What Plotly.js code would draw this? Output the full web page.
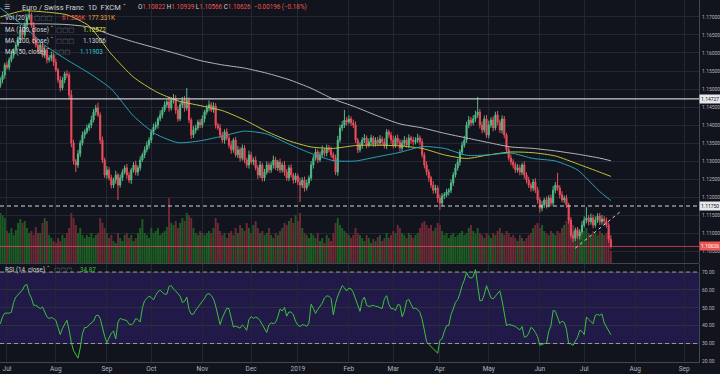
<!DOCTYPE html>
<html><head><meta charset="utf-8">
<script src="https://cdn.plot.ly/plotly-3.0.1.min.js"></script>
<style>html,body{margin:0;padding:0;background:#11141c;}#chart{width:720px;height:374px;}</style>
</head><body><div id="chart"></div>
<script>
// ---------------- DATA ----------------
const startDate = '2018-06-27';   // first daily bar (weekdays only)
const firstOpen = 1.1510;
const closes = [
1.1525,1.1539,1.1567,1.1560,1.1581,1.1594,1.1608,1.1622,1.1636,1.1664,
1.1650,1.1678,1.1697,1.1706,1.1678,1.1636,1.1622,1.1608,1.1622,1.1594,
1.1608,1.1581,1.1586,1.1594,1.1575,1.1553,1.1525,1.1503,1.1525,1.1542,
1.1539,1.1483,1.1350,1.1300,1.1289,1.1320,1.1350,1.1372,1.1381,1.1392,
1.1400,1.1414,1.1436,1.1447,1.1428,1.1358,1.1303,1.1261,1.1275,1.1253,
1.1233,1.1247,1.1261,1.1233,1.1253,1.1269,1.1281,1.1261,1.1247,1.1275,
1.1289,1.1269,1.1281,1.1303,1.1317,1.1331,1.1344,1.1358,1.1381,1.1394,
1.1400,1.1417,1.1428,1.1442,1.1456,1.1464,1.1447,1.1469,1.1475,1.1442,
1.1417,1.1456,1.1469,1.1447,1.1469,1.1414,1.1372,1.1386,1.1392,1.1408,
1.1400,1.1417,1.1436,1.1447,1.1456,1.1442,1.1453,1.1400,1.1392,1.1372,
1.1358,1.1381,1.1364,1.1344,1.1331,1.1358,1.1317,1.1331,1.1308,1.1336,
1.1303,1.1289,1.1317,1.1297,1.1303,1.1281,1.1261,1.1289,1.1253,1.1269,
1.1289,1.1275,1.1289,1.1303,1.1281,1.1297,1.1275,1.1289,1.1269,1.1253,
1.1281,1.1261,1.1247,1.1258,1.1242,1.1233,1.1247,1.1225,1.1239,1.1253,
1.1289,1.1308,1.1325,1.1303,1.1317,1.1331,1.1322,1.1336,1.1331,1.1317,
1.1308,1.1269,1.1358,1.1392,1.1400,1.1414,1.1408,1.1417,1.1406,1.1400,
1.1358,1.1331,1.1344,1.1358,1.1364,1.1344,1.1353,1.1364,1.1347,1.1358,
1.1350,1.1361,1.1353,1.1342,1.1381,1.1372,1.1358,1.1344,1.1364,1.1353,
1.1336,1.1350,1.1358,1.1344,1.1364,1.1358,1.1353,1.1358,1.1364,1.1353,
1.1317,1.1289,1.1269,1.1253,1.1233,1.1219,1.1225,1.1197,1.1183,1.1203,
1.1206,1.1214,1.1219,1.1239,1.1261,1.1281,1.1297,1.1325,1.1344,1.1358,
1.1400,1.1414,1.1406,1.1417,1.1428,1.1436,1.1400,1.1386,1.1417,1.1372,
1.1400,1.1414,1.1392,1.1428,1.1408,1.1386,1.1417,1.1372,1.1331,1.1308,
1.1297,1.1289,1.1275,1.1281,1.1269,1.1289,1.1261,1.1247,1.1233,1.1225,
1.1242,1.1219,1.1192,1.1169,1.1178,1.1192,1.1178,1.1197,1.1183,1.1219,
1.1233,1.1225,1.1206,1.1192,1.1197,1.1178,1.1136,1.1094,1.1086,1.1108,
1.1092,1.1103,1.1122,1.1136,1.1142,1.1131,1.1142,1.1122,1.1136,1.1147,
1.1131,1.1139,1.1133,1.1122,1.10822,1.10626];
// wick lengths above / below the candle body, in pips
const upWickPips = [
8,10,6,9,7,12,5,8,10,14, 9,7,11,13,6,8,10,5,9,7, 12,6,8,10,7,9,5,11,8,6,
10,7,14,9,6,11,8,10,7,9, 6,12,8,9,15,7,10,6,11,8, 9,7,12,6,10,8,7,11,9,6,
8,12,7,10,6,9,11,8,7,10, 9,6,12,8,10,7,15,9,11,8, 10,7,9,12,34,8,6,11,9,7,
8,10,6,9,12,7,10,8,6,11, 9,7,10,8,12,6,9,11,7,10, 8,6,12,9,7,10,8,11,6,9,
10,7,9,12,8,6,10,7,11,9, 8,10,6,9,7,12,8,10,9,7, 11,8,10,7,9,12,6,10,8,9,
7,10,12,9,11,28,8,10,7,9, 10,6,9,8,11,7,10,9,6,8, 9,11,7,10,8,6,9,12,7,10,
8,9,11,7,10,6,9,8,12,7, 9,7,10,8,6,11,9,7,10,8, 7,9,6,10,8,11,9,7,10,12,
9,11,8,10,12,42,8,10,9,11, 12,8,10,9,11,7,10,8,6,9, 10,8,7,11,9,6,10,8,9,7,
8,10,9,7,11,6,9,8,10,12, 9,34,8,10,7,9,6,8,10,7, 9,8,11,10,30,8,12,9,10,8,
9,11,8,10,7,11.7];
const dnWickPips = [
7,9,10,6,8,7,9,11,6,8, 10,7,9,6,8,11,7,9,10,6, 8,10,7,9,11,6,8,10,7,9,
9,11,12,10,20,8,9,7,10,6, 8,9,7,10,6,11,9,8,10,7, 9,8,10,41,7,9,6,10,8,11,
7,9,10,8,6,9,7,10,8,9, 8,10,7,9,6,8,10,7,9,11, 8,6,9,10,7,9,11,8,10,7,
9,8,10,7,9,6,8,10,7,9, 8,10,7,9,11,8,6,9,10,7, 9,8,10,6,9,7,11,8,10,9,
7,9,8,10,6,9,8,7,10,8, 9,7,10,8,9,47,8,10,7,9, 8,10,7,9,6,8,10,9,7,8,
9,8,10,7,9,8,10,6,9,8, 8,9,7,10,8,9,6,10,8,7, 9,8,10,7,9,8,10,9,7,8,
10,8,9,7,8,10,9,7,8,9, 8,10,9,11,8,10,9,12,19,8, 9,7,10,8,9,7,8,10,9,7,
8,9,10,7,9,8,10,9,7,8, 9,8,10,7,9,8,10,9,8,7, 9,10,8,7,9,8,10,9,8,10,
9,8,10,12,9,8,10,7,9,8, 9,8,10,7,9,8,10,9,11,8, 9,10,8,7,9,10,8,9,7,8,
9,8,10,7,9,6];
const volumeK = [
250,240,225,160,150,175,140,165,200,
220,200,210,175,150,160,140,180,150,
150,200,225,210,140,125,110,100,125,
110,140,125,150,175,
250,225,190,150,175,140,125,140,130,150,125,140,150,
225,200,175,150,125,140,110,100,150,125,110,140,150,125,140,110,125,150,175,
220,150,140,125,175,150,160,175,140,150,160,180,
325,200,190,210,175,200,225,210,250,240,225,175,150,140,160,150,140,150,160,150,175,225,200,160,
140,150,125,150,160,140,175,150,190,175,160,200,175,150,190,210,175,150,160,140,150,175,140,125,150,140,160,175,200,190,210,225,200,240,210,250,
175,150,140,125,150,140,125,150,110,125,100,140,125,110,150,200,225,190,175,160,150,140,125,140,
175,150,140,125,110,140,125,100,120,110,130,140,110,125,150,125,140,160,150,190,175,150,140,125,150,140,125,140,150,175,
200,210,190,175,190,160,175,200,190,160,140,150,125,140,150,130,140,150,160,140,150,175,190,160,150,175,150,140,125,150,140,125,150,140,160,175,150,140,160,150,
130,140,125,110,140,125,110,125,140,150,175,190,200,175,190,160,150,140,160,150,140,160,150,175,190,210,225,200,190,160,175,150,140,160,175,150,140,160,150,140,160,150,140,150,160,61.556];
const rsi14 = [
41,45,47,47,47,47.5,53,56,57.5,58.5,
60,62.5,63,58,55.5,51.4,51.4,50.5,49.5,50.5,
48,45,44,44.5,44,43,39,35,38.5,41,
43,37.5,30.5,26,23.5,21.8,27.5,35.5,39,39,
40.5,41.5,42.5,45.5,46,44,38.5,34,30.5,33.5,
35.8,37,32.5,42,44,43.5,43,42.8,40.8,40.5,
41.4,44,43.4,42,50,54,55.2,56.5,55.8,54.4,
57,59,59.8,58.5,57.6,57.6,62,62.4,60.5,59.4,
58.2,56.5,53,53.6,56,49,46.4,46.4,48.6,50.2,
51.7,53.3,55.3,57.5,57.9,56.9,55,51,45.7,40.6,
44.4,47,49.8,49.5,44.3,39.2,39.8,39.4,38.6,40.4,
39.2,37.4,43.5,45.1,44.1,44.8,44.2,42.8,40.7,38.3,
36.2,40.5,41.6,41.1,41.8,45,49.3,48.2,50.2,45.3,
47.7,47.5,46.1,42.4,40.3,39.5,40.5,40.3,39.6,41.4,
52,49.6,46.8,49.1,50.6,52.6,55.5,56.6,56.5,55.2,
46,52.5,56.6,59.5,62.4,61.2,59.4,61,60.6,58.5,
55.2,51.4,48,54,56,51.4,50.8,51,51.4,50.8,
50.7,50,49.6,55,56.8,52,49.5,49.5,48.5,51.8,
51.5,45,48,54,54.7,52,49.5,49.8,49,47.4,
43.5,37.5,31,29.5,28.2,26.9,25.8,24.6,31.8,32.7,
36.8,40,40,46.2,49.3,53,54.5,57.8,62.5,65.5,
69.8,67.2,66.6,67.3,71.4,62.5,54,54,57.5,62.4,
59,55.6,55,56.5,58.1,59.5,54,47,40,40.7,
40.5,40,39.5,38.5,37.6,39.5,33.6,33.8,35.8,39,
38.2,36.1,33.9,29,29.7,30,30,36.8,39.8,48.5,
48,44,41.2,42.5,41.8,38,30,29.8,29,31.4,
33.5,37.4,36.8,35,44.8,43.5,42.3,41.1,45.8,46.3,
45.7,46.6,41.5,39,37.3,34.87];
const maDates = ['2018-06-27','2018-07-11','2018-07-25','2018-08-08','2018-08-22','2018-09-05','2018-09-19',
'2018-10-03','2018-10-17','2018-10-31','2018-11-14','2018-11-28','2018-12-12','2018-12-26','2019-01-09',
'2019-01-23','2019-02-06','2019-02-20','2019-03-06','2019-03-20','2019-04-03','2019-04-17','2019-05-01',
'2019-05-15','2019-05-29','2019-06-12','2019-06-26','2019-07-10','2019-07-17'];
const ma200 = [1.1683,1.1681,1.1681,1.1679,1.1672,1.1650,1.1631,1.1614,1.1597,1.1579,1.1567,1.1558,1.1544,1.1526,1.1502,
1.1472,1.1450,1.1425,1.1403,1.1392,1.1377,1.1364,1.1351,1.1339,1.1335,1.1328,1.1319,1.1308,1.13006];
const ma100 = [1.1700,1.1717,1.1714,1.1706,1.1675,1.1597,1.1533,1.1493,1.1467,1.1454,1.1440,1.1414,1.1382,1.1356,1.1339,
1.1335,1.1343,1.1344,1.1342,1.1335,1.1317,1.1307,1.1317,1.1325,1.1323,1.1314,1.1292,1.1269,1.12572];
const ma50 = [1.1725,1.1678,1.1622,1.1581,1.1544,1.1500,1.1425,1.1375,1.1351,1.1356,1.1369,1.1383,1.1375,1.1347,1.1321,
1.1301,1.1300,1.1312,1.1324,1.1340,1.1335,1.1316,1.1317,1.1322,1.1307,1.1300,1.1275,1.1215,1.11903];
const monthTicks = ['2018-07-02','2018-08-01','2018-09-03','2018-10-01','2018-11-01','2018-12-03','2019-01-01',
'2019-02-01','2019-03-01','2019-04-01','2019-05-01','2019-06-03','2019-07-01','2019-08-01','2019-09-02'];
const monthLabels = ['Jul','Aug','Sep','Oct','Nov','Dec','2019','Feb','Mar','Apr','May','Jun','Jul','Aug','Sep'];
const priceTicks = [1.105,1.110,1.115,1.120,1.125,1.130,1.135,1.140,1.145,1.150,1.155,1.160,1.165,1.170];
const rsiTicks = [20,30,40,50,60,70];
const resistanceLevel = 1.14727;
const supportLevel = 1.11750;
const lastPrice = 1.10626;
const trendDates = ['2019-06-25','2019-07-23'];
const trendPrices = [1.1058, 1.1158];
const header = {name:'Euro / Swiss Franc', interval:'1D', source:'FXCM',
  o:'1.10822', h:'1.10939', l:'1.10566', c:'1.10626', chg:'\u22120.00196 (\u22120.18%)'};
const legendVol = ['61.556K','177.331K'];
const legendMA = {ma100:'1.12572', ma200:'1.13006', ma50:'1.11903'};
const legendRSI = '34.87';

// ---------------- BUILD ----------------
const FONT = 'Roboto, "DejaVu Sans", sans-serif';
function tradingDays(start, n){
  const out=[]; const d=new Date(start+'T00:00:00Z');
  while(out.length<n){ const w=d.getUTCDay(); if(w!==0&&w!==6) out.push(d.toISOString().slice(0,10)+' 12:00'); d.setUTCDate(d.getUTCDate()+1); }
  return out;
}
const noon = s => s + ' 12:00';
const dates = tradingDays(startDate, closes.length);
const opens = closes.map((c,i)=> i===0 ? firstOpen : closes[i-1]);
const highs = closes.map((c,i)=> Math.max(opens[i],c) + upWickPips[i]*0.0001);
const lows  = closes.map((c,i)=> Math.min(opens[i],c) - dnWickPips[i]*0.0001);
const volColors = closes.map((c,i)=> c>=opens[i] ? '#1d5c25' : '#6b2a36');

const traces = [
  {type:'bar', x:dates, y:volumeK, xaxis:'x', yaxis:'y', marker:{color:volColors, line:{width:0}}},
  {type:'candlestick', x:dates, open:opens, high:highs, low:lows, close:closes, xaxis:'x', yaxis:'y3',
   whiskerwidth:0,
   increasing:{line:{color:'#53b987', width:1}, fillcolor:'#53b987'},
   decreasing:{line:{color:'#eb4d5c', width:1}, fillcolor:'#eb4d5c'}},
  {type:'scatter', mode:'lines', x:maDates.map(noon), y:ma200, xaxis:'x', yaxis:'y3', line:{color:'#b4b6bc', width:1, shape:'spline', smoothing:0.6}},
  {type:'scatter', mode:'lines', x:maDates.map(noon), y:ma100, xaxis:'x', yaxis:'y3', line:{color:'#c4c43a', width:1, shape:'spline', smoothing:0.6}},
  {type:'scatter', mode:'lines', x:maDates.map(noon), y:ma50, xaxis:'x', yaxis:'y3', line:{color:'#26a3b5', width:1, shape:'spline', smoothing:0.6}},
  {type:'scatter', mode:'lines', x:dates, y:rsi14, xaxis:'x', yaxis:'y2', line:{color:'#3cc13c', width:1}}
];

const PW = 699, PH = 362;
const ann = [];
function txt(x, y, text, size, color, extra){
  ann.push(Object.assign({xref:'paper', yref:'paper', x:x/PW, y:(PH-y)/PH, xanchor:'left', yanchor:'middle',
    text:text, showarrow:false, font:{size:size, color:color, family:FONT}}, extra||{}));
}
const ICONS = '\u25A2\u25A2\u25A2';
txt(2, 7, '\u2630', 7, '#b2b5be');
txt(20, 7, header.name + '  ' + header.interval + '  ' + header.source + ' \u02C7', 7.5, '#d1d4dc');
const R = '#ef5350', W = '#d1d4dc';
const sp = (c,t)=>'<span style="color:'+c+'">'+t+'</span>';
txt(136, 7, sp(W,'O')+sp(R,header.o)+' '+sp(W,'H')+sp(R,header.h)+' '+sp(W,'L')+sp(R,header.l)+' '+sp(W,'C')+sp(R,header.c)+'  '+sp(R,header.chg), 6.3, R);
txt(3, 18, 'Vol (20)', 6.3, '#d1d4dc');
txt(32, 18, ICONS, 6.5, '#6a6d78');
txt(60, 18, legendVol[0], 6.3, '#ef5350');
txt(86, 18, legendVol[1], 6.3, '#f0a030');
txt(3, 30, 'MA (100, close) \u02C7', 6.3, '#d1d4dc');
txt(54, 30, ICONS, 6.5, '#6a6d78');
txt(81, 30, legendMA.ma100, 6.3, '#e0e040');
txt(3, 41, 'MA (200, close) \u02C7', 6.3, '#d1d4dc');
txt(54, 41, ICONS, 6.5, '#6a6d78');
txt(81, 41, legendMA.ma200, 6.3, '#d1d4dc');
txt(3, 52, 'MA (50, close) \u02C7', 6.3, '#d1d4dc');
txt(50, 52, ICONS, 6.5, '#6a6d78');
txt(78, 52, legendMA.ma50, 6.3, '#2fc0d0');
txt(3, 270, 'RSI (14, close) \u02C7', 6.3, '#d1d4dc');
txt(52, 270, ICONS, 6.5, '#6a6d78');
txt(78, 270, legendRSI, 6.3, '#3cc13c');

function priceTag(v, bg, fg){
  ann.push({xref:'paper', yref:'y3', x:1, y:v, xanchor:'left', yanchor:'middle', xshift:0, showarrow:false,
    text:v.toFixed(5), bgcolor:bg, borderpad:1, font:{size:5, color:fg, family:FONT}});
}
priceTag(resistanceLevel, '#e6e7ea', '#131722');
priceTag(supportLevel, '#e6e7ea', '#131722');
priceTag(lastPrice, '#ef5350', '#ffffff');

const shapes = [
  {type:'rect', layer:'below', xref:'paper', x0:0, x1:1, yref:'y2', y0:30, y1:70, fillcolor:'rgba(85,45,205,0.25)', line:{width:0}},
  {type:'line', xref:'paper', x0:0, x1:1, yref:'y2', y0:70, y1:70, line:{color:'#9598a1', width:1, dash:'4px,3px'}},
  {type:'line', xref:'paper', x0:0, x1:1, yref:'y2', y0:30, y1:30, line:{color:'#9598a1', width:1, dash:'4px,3px'}},
  {type:'line', xref:'paper', x0:0, x1:1, yref:'y3', y0:resistanceLevel, y1:resistanceLevel, line:{color:'#c8cad0', width:1.3}},
  {type:'line', xref:'paper', x0:0, x1:1, yref:'y3', y0:supportLevel, y1:supportLevel, line:{color:'#d1d4dc', width:1, dash:'4px,3px'}},
  {type:'line', xref:'paper', x0:0, x1:1, yref:'y3', y0:lastPrice, y1:lastPrice, line:{color:'#d9495a', width:0.8}},
  {type:'line', xref:'x', yref:'y3', x0:noon(trendDates[0]), x1:noon(trendDates[1]), y0:trendPrices[0], y1:trendPrices[1], line:{color:'#d1d4dc', width:1, dash:'3px,3px'}},
  {type:'line', xref:'paper', x0:0, x1:1, yref:'paper', y0:0.2721, y1:0.2721, line:{color:'#434651', width:1}}
];

const axisFont = {size:5, color:'#b2b5be', family:FONT};
const layout = {
  width:720, height:374, margin:{l:0, r:21, t:0, b:12},
  paper_bgcolor:'#11141c', plot_bgcolor:'#11141c',
  showlegend:false, hovermode:false, bargap:0.12,
  xaxis:{type:'date', anchor:'y2', range:['2018-06-27 08:45','2019-09-11 04:48'],
    rangebreaks:[{bounds:['sat','mon']}], tickvals:monthTicks.map(noon), ticktext:monthLabels,
    showgrid:true, gridcolor:'#232733', gridwidth:1, ticks:'', tickfont:{size:6.5, color:'#b2b5be', family:FONT},
    showline:true, linecolor:'#434651', zeroline:false, rangeslider:{visible:false}, fixedrange:true},
  yaxis:{domain:[0.2735,1], range:[0,1315], visible:false, fixedrange:true},
  yaxis3:{overlaying:'y', anchor:'x', side:'right', range:[1.10167,1.17472], tickvals:priceTicks,
    ticktext:priceTicks.map(v=>v.toFixed(5)), showgrid:true, gridcolor:'#232733', ticks:'', ticklabelstandoff:1,
    tickfont:axisFont, showline:true, linecolor:'#434651', zeroline:false, fixedrange:true},
  yaxis2:{domain:[0,0.2707], anchor:'x', side:'right', range:[19.65,74.5], tickvals:rsiTicks,
    ticktext:rsiTicks.map(v=>v.toFixed(2)), showgrid:true, gridcolor:'#2c2f3e', ticks:'', ticklabelstandoff:1,
    tickfont:axisFont, showline:true, linecolor:'#434651', zeroline:false, fixedrange:true},
  shapes:shapes, annotations:ann
};
Plotly.newPlot('chart', traces, layout, {staticPlot:true, displayModeBar:false});
</script></body></html>
